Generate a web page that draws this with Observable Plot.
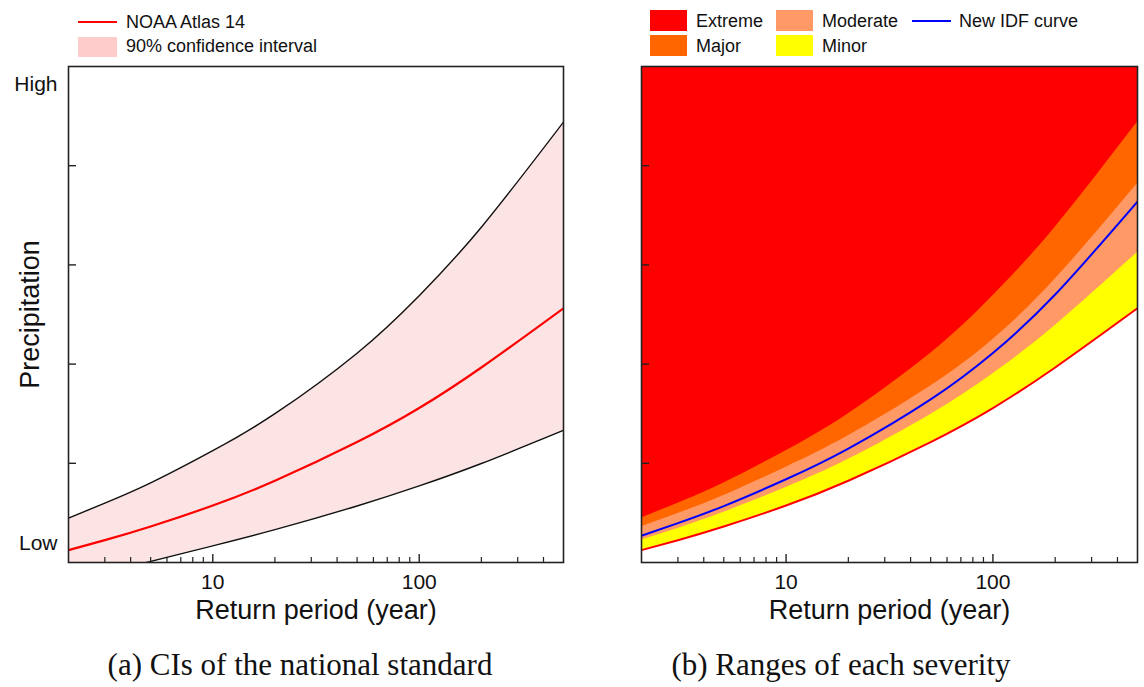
<!DOCTYPE html>
<html>
<head>
<meta charset="utf-8">
<script src="https://cdn.jsdelivr.net/npm/d3@7"></script>
<script src="https://cdn.jsdelivr.net/npm/@observablehq/plot@0.6"></script>
<style>
  body { margin: 0; background: #fff; }
  #wrap { position: relative; width: 1144px; height: 687px; overflow: hidden; font-family: "Liberation Sans", Arial, sans-serif; color: #111; }
  .abs { position: absolute; }
  .lg { position: absolute; font-size: 18px; line-height: 18px; white-space: nowrap; }
  .cap { position: absolute; font-family: "Liberation Serif", "Times New Roman", serif; font-size: 31px; white-space: nowrap; transform: translate(-50%, -50%); }
</style>
</head>
<body>
<div id="wrap"></div>
<script>
// ---- data (return period in years, precipitation in relative units 0..5) ----
const returnPeriod = [2, 3, 5, 10, 20, 50, 100, 200, 500];
const noaaAtlas14  = [0.125, 0.225, 0.363, 0.574, 0.824, 1.214, 1.557, 1.966, 2.563];
const ciUpper      = [0.448, 0.598, 0.802, 1.127, 1.50, 2.11, 2.69, 3.38, 4.44];
const ciLower      = [-0.185, -0.10, 0.011, 0.168, 0.331, 0.570, 0.772, 0.998, 1.332];
const minorTop     = [0.228, 0.344, 0.506, 0.756, 1.040, 1.492, 1.903, 2.390, 3.126];
const newIDF       = [0.270, 0.397, 0.569, 0.839, 1.148, 1.644, 2.112, 2.701, 3.638];
const moderateTop  = [0.361, 0.494, 0.675, 0.961, 1.277, 1.778, 2.248, 2.857, 3.821];

const xMajorTicks = [10, 100];
const xMinorTicks = [3, 4, 5, 6, 7, 8, 9, 20, 30, 40, 50, 60, 70, 80, 90, 200, 300, 400];
const yTicks = [1, 2, 3, 4];
const yLabelText = ["Low", "High"];
const yLabelPos = [0.19, 4.82];

const severityNames = ["Extreme", "Major", "Moderate", "Minor"];
const severityColors = ["#ff0000", "#ff6600", "#ff9966", "#ffff00"];

const rows = returnPeriod.map((t, i) => ({
  t, noaa: noaaAtlas14[i], up: ciUpper[i], lo: ciLower[i],
  minor: minorTop[i], idf: newIDF[i], mod: moderateTop[i]
}));

const FONT = "'Liberation Sans', Arial, sans-serif";
const CURVE = "natural";
const H = 640, MT = 66, MB = 78;
const innerH = H - MT - MB;

function commonMarks(innerW) {
  return [
    Plot.tickX(xMinorTicks, {x: d => d, insetTop: innerH - 5, stroke: "#222", strokeWidth: 1.2}),
    Plot.tickX(xMajorTicks, {x: d => d, insetTop: innerH - 8, stroke: "#222", strokeWidth: 1.4}),
    Plot.tickY(yTicks, {y: d => d, insetRight: innerW - 8, stroke: "#222", strokeWidth: 1.4}),
    Plot.axisX({ticks: xMajorTicks, tickSize: 0, tickPadding: 12, fontSize: 21, tickFormat: d3.format("d"), label: null}),
    Plot.text(["Return period (year)"], {frameAnchor: "bottom", textAnchor: "middle", dy: 48, fontSize: 27, lineAnchor: "middle", clip: false}),
    Plot.frame({stroke: "#222", strokeWidth: 1.6})
  ];
}

// ---- left panel ----
const leftW = 590, leftML = 68, leftMR = 27;
const left = Plot.plot({
  width: leftW, height: H,
  marginLeft: leftML, marginRight: leftMR, marginTop: MT, marginBottom: MB,
  style: {fontFamily: FONT, color: "#111", background: "transparent"},
  x: {type: "log", domain: [2, 500], axis: null},
  y: {domain: [0, 5], axis: null},
  marks: [
    Plot.areaY(rows, {x: "t", y1: "lo", y2: "up", fill: "#fde4e4", curve: CURVE, clip: true}),
    Plot.lineY(rows, {x: "t", y: "up", stroke: "#111", strokeWidth: 1.4, curve: CURVE, clip: true}),
    Plot.lineY(rows, {x: "t", y: "lo", stroke: "#111", strokeWidth: 1.4, curve: CURVE, clip: true}),
    Plot.lineY(rows, {x: "t", y: "noaa", stroke: "#ff0000", strokeWidth: 2.2, curve: CURVE, clip: true}),
    ...commonMarks(leftW - leftML - leftMR),
    Plot.text(yLabelText, {y: (d, i) => yLabelPos[i], text: d => d, frameAnchor: "left", textAnchor: "end", dx: -11, fontSize: 21}),
    Plot.text(["Precipitation"], {frameAnchor: "left", textAnchor: "middle", dx: -38, rotate: -90, fontSize: 27})
  ]
});

// ---- right panel ----
const rightW = 544, rightML = 41, rightMR = 7;
const right = Plot.plot({
  width: rightW, height: H,
  marginLeft: rightML, marginRight: rightMR, marginTop: MT, marginBottom: MB,
  style: {fontFamily: FONT, color: "#111", background: "transparent"},
  x: {type: "log", domain: [2, 500], axis: null},
  y: {domain: [0, 5], axis: null},
  marks: [
    Plot.frame({fill: severityColors[0]}),
    Plot.areaY(rows, {x: "t", y: "up", fill: severityColors[1], curve: CURVE, clip: true}),
    Plot.areaY(rows, {x: "t", y: "mod", fill: severityColors[2], curve: CURVE, clip: true}),
    Plot.areaY(rows, {x: "t", y: "minor", fill: severityColors[3], curve: CURVE, clip: true}),
    Plot.areaY(rows, {x: "t", y: "noaa", fill: "#ffffff", curve: CURVE, clip: true}),
    Plot.lineY(rows, {x: "t", y: "noaa", stroke: "#ff0000", strokeWidth: 2, curve: CURVE, clip: true}),
    Plot.lineY(rows, {x: "t", y: "idf", stroke: "#0000ff", strokeWidth: 2, curve: CURVE, clip: true}),
    ...commonMarks(rightW - rightML - rightMR)
  ]
});

const wrap = document.getElementById("wrap");
left.style.position = "absolute"; left.style.left = "0px"; left.style.top = "0px";
right.style.position = "absolute"; right.style.left = "600px"; right.style.top = "0px";
wrap.appendChild(left);
wrap.appendChild(right);

function add(html) { wrap.insertAdjacentHTML("beforeend", html); }
// left legend
add(`<div class="abs" style="left:78px;top:21px;width:39px;height:2px;background:#ff0000"></div>`);
add(`<div class="lg" style="left:126px;top:13px">NOAA Atlas 14</div>`);
add(`<div class="abs" style="left:78px;top:37px;width:39px;height:20px;background:#ffcccc"></div>`);
add(`<div class="lg" style="left:126px;top:37px">90% confidence interval</div>`);
// right legend
const legPos = [[650, 10], [650, 35], [776, 10], [776, 35]];
severityNames.forEach((n, i) => {
  const [lx, ly] = legPos[i];
  add(`<div class="abs" style="left:${lx}px;top:${ly}px;width:37px;height:21px;background:${severityColors[i]}"></div>`);
  add(`<div class="lg" style="left:${lx + 46}px;top:${ly + 2}px">${n}</div>`);
});
add(`<div class="abs" style="left:912px;top:20px;width:39px;height:2px;background:#0000ff"></div>`);
add(`<div class="lg" style="left:959px;top:12px">New IDF curve</div>`);
// captions
add(`<div class="cap" style="left:300px;top:665px">(a) CIs of the national standard</div>`);
add(`<div class="cap" style="left:841px;top:665px">(b) Ranges of each severity</div>`);
</script>
</body>
</html>
